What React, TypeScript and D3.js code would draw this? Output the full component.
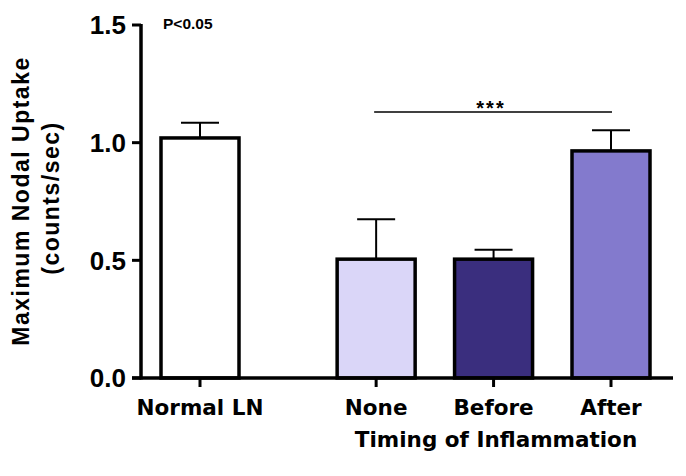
import React from "react";
import * as d3 from "d3";

const categories = ["Normal LN", "None", "Before", "After"];
const means = [1.02, 0.505, 0.505, 0.965];
const errors = [0.065, 0.17, 0.04, 0.088];
const colors = ["#ffffff", "#dad6f8", "#3a2e7e", "#837acd"];
const yTicks = [0.0, 0.5, 1.0, 1.5];

export default function App() {
  const W = 686, H = 476;
  const y = d3.scaleLinear().domain([0, 1.5]).range([378, 25]);
  const x = d3.scaleLinear().domain([0, 3.5]).range([200, 611]);
  const pos = (i: number) => x(i + (i > 0 ? 0.5 : 0));
  const bw = 78;
  const font = "'Liberation Sans', Arial, sans-serif";
  return (
    <svg width={W} height={H} style={{ position: "absolute", left: 0, top: 0, background: "#fff" }}>
      {categories.map((c, i) => {
        const cx = pos(i);
        const top = y(means[i]);
        const et = y(means[i] + errors[i]);
        return (
          <g key={c}>
            <line x1={cx} x2={cx} y1={top} y2={et} stroke="#000" strokeWidth={2} />
            <line x1={cx - 19} x2={cx + 19} y1={et} y2={et} stroke="#000" strokeWidth={2} />
            <rect x={cx - bw / 2} y={top} width={bw} height={y(0) - top} fill={colors[i]} stroke="#000" strokeWidth={3.5} />
          </g>
        );
      })}
      <line x1={141} x2={141} y1={y(1.5) - 1} y2={y(0) + 1.5} stroke="#000" strokeWidth={3.5} />
      {yTicks.map((t) => (
        <g key={t}>
          <line x1={132} x2={141} y1={y(t)} y2={y(t)} stroke="#000" strokeWidth={3} />
          <text x={126} y={y(t)} dy="0.36em" textAnchor="end" fontFamily={font} fontWeight="bold" fontSize={26}>
            {t.toFixed(1)}
          </text>
        </g>
      ))}
      <line x1={132} x2={673} y1={y(0)} y2={y(0)} stroke="#000" strokeWidth={3.5} />
      {categories.map((c, i) => (
        <g key={"t" + c}>
          <line x1={pos(i)} x2={pos(i)} y1={y(0)} y2={y(0) + 9} stroke="#000" strokeWidth={3} />
          <text x={pos(i)} y={415} textAnchor="middle" fontFamily="'DejaVu Sans', sans-serif" fontWeight="bold" fontSize={21.5}>
            {c}
          </text>
        </g>
      ))}
      <text x={496} y={447} textAnchor="middle" fontFamily="'DejaVu Sans', sans-serif" fontWeight="bold" fontSize={21.5}>
        Timing of Inflammation
      </text>
      <text transform="translate(29,201) rotate(-90)" textAnchor="middle" fontFamily={font} fontWeight="bold" fontSize={23} letterSpacing={1.5}>
        Maximum Nodal Uptake
      </text>
      <text transform="translate(59,198) rotate(-90)" textAnchor="middle" fontFamily={font} fontWeight="bold" fontSize={23} letterSpacing={1.5}>
        (counts/sec)
      </text>
      <line x1={pos(1) - 2} x2={pos(3) + 1} y1={112} y2={112} stroke="#000" strokeWidth={1.5} />
      <text x={491} y={115} textAnchor="middle" fontFamily={font} fontWeight="bold" fontSize={20} letterSpacing={2}>***</text>
      <text x={163} y={29} fontFamily={font} fontWeight="bold" fontSize={15.5}>P&lt;0.05</text>
    </svg>
  );
}
